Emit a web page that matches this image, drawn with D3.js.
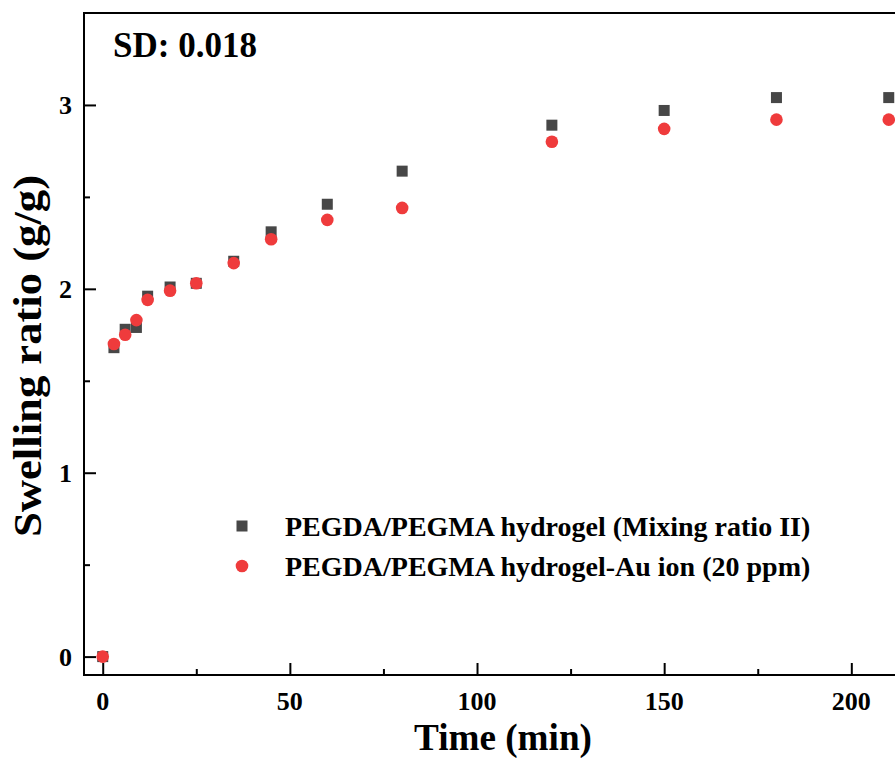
<!DOCTYPE html>
<html>
<head>
<meta charset="utf-8">
<script src="https://cdn.jsdelivr.net/npm/d3@7"></script>
<style>
  body { margin: 0; background: #fff; }
  svg { display: block; }
  text { font-family: "Liberation Serif", "Times New Roman", serif; font-weight: bold; fill: #000; }
</style>
</head>
<body>
<div id="chart"></div>
<script>
// swelling ratio vs time
const times = [0, 3, 6, 9, 12, 18, 25, 35, 45, 60, 80, 120, 150, 180, 210];
const hydrogel = [0, 1.68, 1.78, 1.79, 1.96, 2.01, 2.03, 2.15, 2.31, 2.46, 2.64, 2.89, 2.97, 3.04, 3.04];
const hydrogelAu = [0, 1.70, 1.75, 1.83, 1.94, 1.99, 2.03, 2.14, 2.27, 2.375, 2.44, 2.80, 2.87, 2.92, 2.92];
const xTicks = [0, 50, 100, 150, 200];
const yTicks = [0, 1, 2, 3];
const legendLabels = ['PEGDA/PEGMA hydrogel (Mixing ratio II)', 'PEGDA/PEGMA hydrogel-Au ion (20 ppm)'];

const width = 895;
const height = 758;
const margin = { top: 13, bottom: 83, left: 84 };

const svg = d3.select('#chart')
  .append('svg')
  .attr('width', width)
  .attr('height', height);

const x = d3.scaleLinear()
  .domain([-5, 220])
  .range([margin.left, margin.left + 225 * 3.743]);

const y = d3.scaleLinear()
  .domain([-0.1, 3.5])
  .range([height - margin.bottom, margin.top]);

const plotRight = x(220);
const plotBottom = y(-0.1);
const plotTop = y(3.5);

// frame
svg.append('rect')
  .attr('x', margin.left)
  .attr('y', plotTop)
  .attr('width', plotRight - margin.left)
  .attr('height', plotBottom - plotTop)
  .attr('fill', 'none')
  .attr('stroke', '#000')
  .attr('stroke-width', 2);

// x axis, ticks inward
const xAxis = svg.append('g')
  .attr('transform', `translate(0,${plotBottom})`)
  .call(d3.axisTop(x).tickValues(xTicks).tickSize(12).tickFormat(''));
xAxis.select('.domain').remove();
xAxis.selectAll('line').attr('stroke-width', 2);

svg.append('g')
  .attr('transform', `translate(0,${plotBottom})`)
  .call(d3.axisTop(x).tickValues([25, 75, 125, 175]).tickSize(6).tickFormat(''))
  .call(g => g.select('.domain').remove())
  .selectAll('line').attr('stroke-width', 2);

svg.append('g')
  .selectAll('text')
  .data(xTicks)
  .enter()
  .append('text')
  .attr('x', d => x(d))
  .attr('y', plotBottom + 35)
  .attr('text-anchor', 'middle')
  .attr('font-size', 26)
  .text(d => d);

// y axis, ticks inward
const yAxis = svg.append('g')
  .attr('transform', `translate(${margin.left},0)`)
  .call(d3.axisRight(y).tickValues(yTicks).tickSize(12).tickFormat(''));
yAxis.select('.domain').remove();
yAxis.selectAll('line').attr('stroke-width', 2);

svg.append('g')
  .attr('transform', `translate(${margin.left},0)`)
  .call(d3.axisRight(y).tickValues([0.5, 1.5, 2.5]).tickSize(6).tickFormat(''))
  .call(g => g.select('.domain').remove())
  .selectAll('line').attr('stroke-width', 2);

svg.append('g')
  .selectAll('text')
  .data(yTicks)
  .enter()
  .append('text')
  .attr('x', margin.left - 12)
  .attr('y', d => y(d) + 9)
  .attr('text-anchor', 'end')
  .attr('font-size', 26)
  .text(d => d);

// axis titles
svg.append('text')
  .attr('x', 503)
  .attr('y', 750)
  .attr('text-anchor', 'middle')
  .attr('font-size', 37)
  .attr('textLength', 178)
  .attr('lengthAdjust', 'spacingAndGlyphs')
  .text('Time (min)');

svg.append('text')
  .attr('transform', 'translate(41,356) rotate(-90)')
  .attr('text-anchor', 'middle')
  .attr('font-size', 41)
  .attr('textLength', 362)
  .attr('lengthAdjust', 'spacingAndGlyphs')
  .text('Swelling ratio (g/g)');

// annotation
svg.append('text')
  .attr('x', 113)
  .attr('y', 57)
  .attr('font-size', 35)
  .text('SD: 0.018');

// data
const sq = 11;
svg.append('g')
  .selectAll('rect')
  .data(times.map((t, i) => [t, hydrogel[i]]))
  .enter()
  .append('rect')
  .attr('x', d => x(d[0]) - sq / 2)
  .attr('y', d => y(d[1]) - sq / 2)
  .attr('width', sq)
  .attr('height', sq)
  .attr('fill', '#474747');

svg.append('g')
  .selectAll('circle')
  .data(times.map((t, i) => [t, hydrogelAu[i]]))
  .enter()
  .append('circle')
  .attr('cx', d => x(d[0]))
  .attr('cy', d => y(d[1]))
  .attr('r', 6.3)
  .attr('fill', '#ef3b3c');

// legend
const legend = svg.append('g').attr('transform', 'translate(242,526)');
legend.append('rect')
  .attr('x', -sq / 2)
  .attr('y', -sq / 2)
  .attr('width', sq)
  .attr('height', sq)
  .attr('fill', '#474747');
legend.append('circle')
  .attr('cx', 0)
  .attr('cy', 40)
  .attr('r', 6.3)
  .attr('fill', '#ef3b3c');
legend.selectAll('text')
  .data(legendLabels)
  .enter()
  .append('text')
  .attr('x', 43)
  .attr('y', (d, i) => i * 40 + 10)
  .attr('font-size', 28)
  .text(d => d);
</script>
</body>
</html>
